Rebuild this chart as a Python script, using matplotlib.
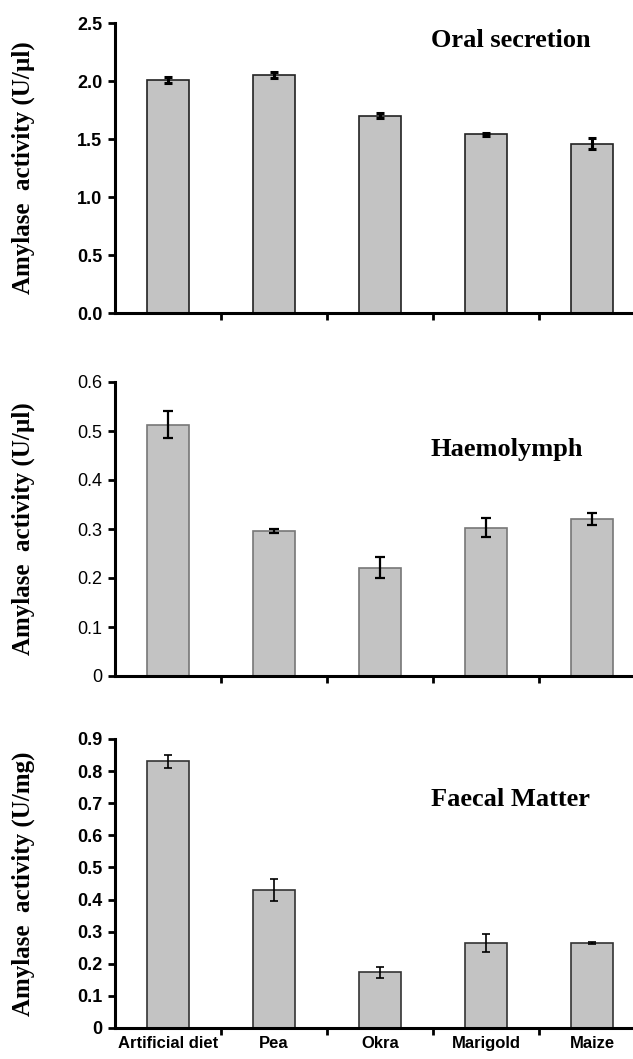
import matplotlib.pyplot as plt
import numpy as np

# Diets and amylase activity (mean, SE) for each sample type
diets = ['Artificial diet', 'Pea', 'Okra', 'Marigold', 'Maize']

oral_mean = [2.01, 2.05, 1.70, 1.54, 1.46]
oral_err = [0.028, 0.025, 0.022, 0.015, 0.05]

haemo_mean = [0.513, 0.296, 0.221, 0.303, 0.321]
haemo_err = [0.027, 0.005, 0.022, 0.02, 0.012]

faecal_mean = [0.830, 0.431, 0.173, 0.266, 0.264]
faecal_err = [0.019, 0.034, 0.0165, 0.028, 0.003]

W, H = 633, 1059
fig = plt.figure(figsize=(W / 100, H / 100), dpi=100)

serif = ['Liberation Serif', 'DejaVu Serif']
sans = ['Liberation Sans', 'DejaVu Sans']


def make_axes(top_px, bottom_px):
    left = 115 / W
    width = 530 / W
    bottom = 1 - bottom_px / H
    height = (bottom_px - top_px) / H
    return fig.add_axes([left, bottom, width, height])


panels = [
    dict(top=23, bottom=313, mean=oral_mean, err=oral_err, ymax=2.5, step=0.5,
         fmt=lambda v: f'{v:.1f}', tickweight='bold',
         ylabel='Amylase  activity (U/µl)', title='Oral secretion', ty=0.94,
         edge='#222222', elw=2.2, cap=3),
    dict(top=382, bottom=676, mean=haemo_mean, err=haemo_err, ymax=0.6, step=0.1,
         fmt=lambda v: '0' if v == 0 else f'{v:.1f}', tickweight='normal',
         ylabel='Amylase  activity (U/µl)', title='Haemolymph', ty=0.772,
         edge='#777777', elw=1.6, cap=3.5),
    dict(top=739, bottom=1028, mean=faecal_mean, err=faecal_err, ymax=0.9, step=0.1,
         fmt=lambda v: '0' if v == 0 else f'{v:.1f}', tickweight='bold',
         ylabel='Amylase  activity (U/mg)', title='Faecal Matter', ty=0.79,
         edge='#333333', elw=1.2, cap=3),
]

x = np.arange(len(diets))

for i, p in enumerate(panels):
    ax = make_axes(p['top'], p['bottom'])
    ax.bar(x, p['mean'], width=0.4, color='#c3c3c3', edgecolor=p['edge'], linewidth=1.2, zorder=2)
    ax.errorbar(x, p['mean'], yerr=p['err'], fmt='none', ecolor='black',
                elinewidth=p['elw'], capsize=p['cap'], capthick=p['elw'], zorder=3)

    ax.set_xlim(-0.5, 4.5)
    ax.set_ylim(0, p['ymax'])
    yt = np.round(np.arange(0, p['ymax'] + 1e-9, p['step']), 2)
    ax.set_yticks(yt)
    ax.set_yticklabels([p['fmt'](v) for v in yt], family=sans,
                       fontweight=p['tickweight'], fontsize=13)

    # category ticks sit between the bars
    ax.set_xticks(x[:-1] + 0.5)
    ax.set_xticks(x, minor=True)
    ax.tick_params(axis='x', which='minor', length=0)
    ax.tick_params(axis='x', which='major', length=5, width=2, labelbottom=False)
    ax.tick_params(axis='y', length=5, width=2, pad=4)
    if i == 2:
        ax.set_xticklabels(diets, minor=True, family=sans, fontweight='bold', fontsize=12)
        ax.tick_params(axis='x', which='minor', pad=6)
    else:
        ax.tick_params(axis='x', which='minor', labelbottom=False)

    for side in ('top', 'right'):
        ax.spines[side].set_visible(False)
    for side in ('left', 'bottom'):
        ax.spines[side].set_linewidth(2.2)

    ax.set_ylabel(p['ylabel'], family=serif, fontweight='bold', fontsize=18)
    ax.yaxis.set_label_coords(-0.15, 0.5)
    ax.text(0.596, p['ty'], p['title'], transform=ax.transAxes, family=serif,
            fontweight='bold', fontsize=19, ha='left', va='center')

fig.savefig('out.png', dpi=100)
